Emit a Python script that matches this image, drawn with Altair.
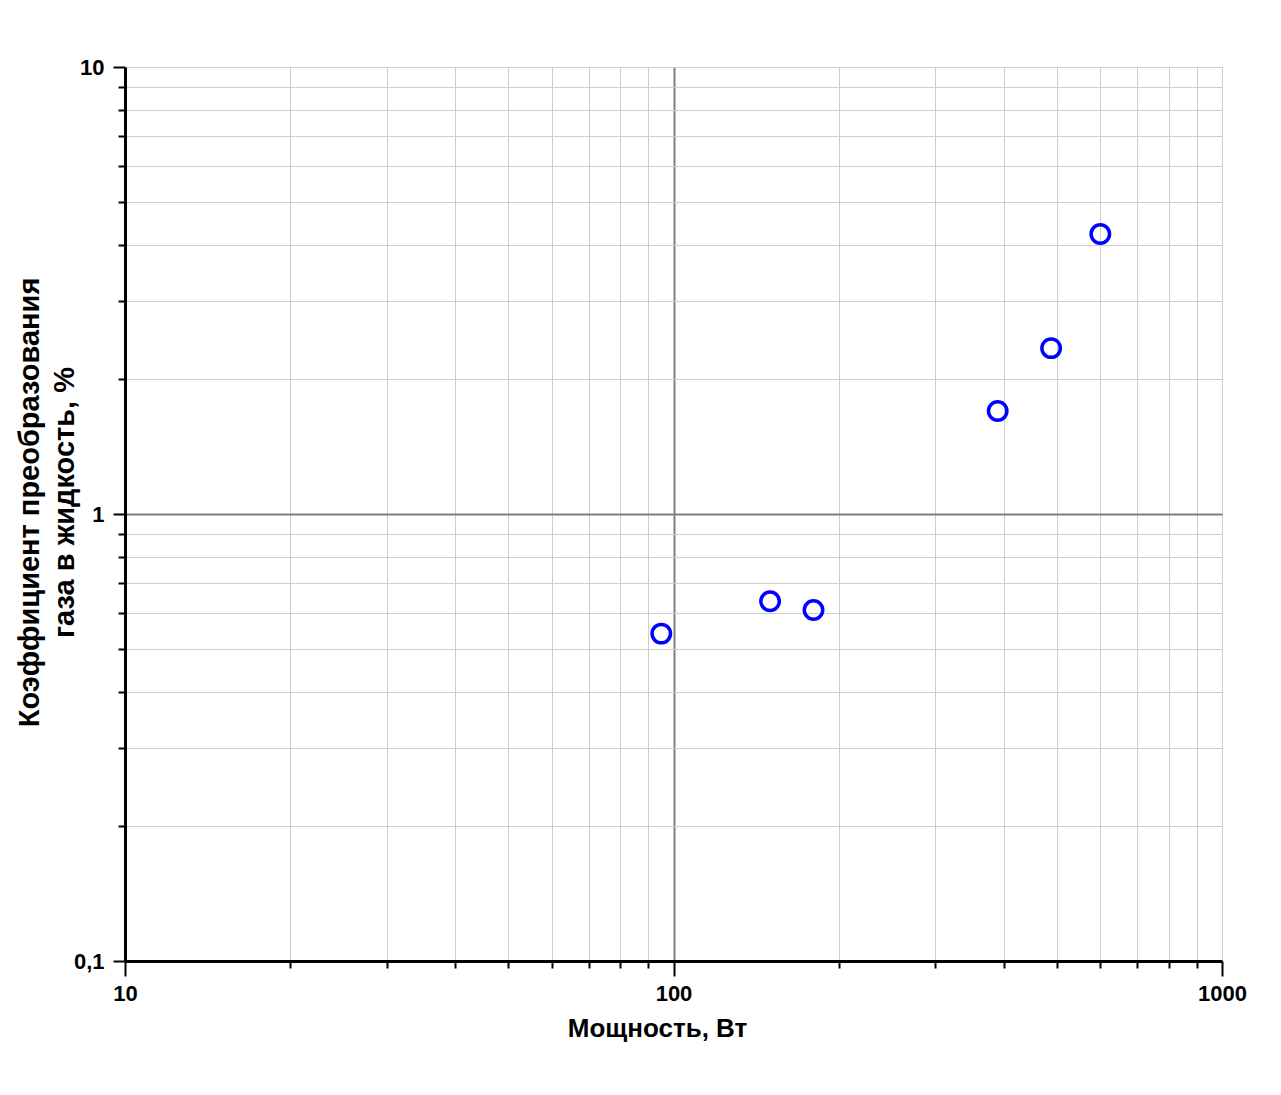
import altair as alt
import pandas as pd

power_w = [95, 150, 180, 390, 488, 600]
conversion_pct = [0.54, 0.638, 0.61, 1.70, 2.35, 4.23]

x_ticks = [10, 20, 30, 40, 50, 60, 70, 80, 90, 100, 200, 300, 400, 500, 600, 700, 800, 900, 1000]
y_ticks = [0.1, 0.2, 0.3, 0.4, 0.5, 0.6, 0.7, 0.8, 0.9, 1, 2, 3, 4, 5, 6, 7, 8, 9, 10]
x_title = "Мощность, Вт"
y_title = ["Коэффициент преобразования", "газа в жидкость, %"]

df = pd.DataFrame({"power": power_w, "conv": conversion_pct})

FONT = "Liberation Sans"

x_axis = alt.Axis(
    values=x_ticks,
    title=x_title,
    labelExpr="(datum.value == 10 || datum.value == 100 || datum.value == 1000) ? datum.label : ''",
    format="d",
    grid=True,
    gridColor={"condition": {"test": "datum.value == 100", "value": "#7f7f7f"}, "value": "#cdcdcd"},
    gridWidth={"condition": {"test": "datum.value == 100", "value": 2}, "value": 1},
    tickSize={"condition": {"test": "datum.value == 10 || datum.value == 100 || datum.value == 1000", "value": 15}, "value": 7},
    tickColor="black",
    tickWidth=2,
    domainColor="black",
    domainWidth=3,
    labelFont=FONT,
    labelFontWeight="bold",
    labelFontSize=22,
    labelColor="black",
    labelPadding=7,
    labelFlush=False,
    labelOverlap=False,
    titleFont=FONT,
    titleFontWeight="bold",
    titleFontSize=26,
    titleColor="black",
    titlePadding=11,
    titleX=532,
)

y_axis = alt.Axis(
    values=y_ticks,
    title=y_title,
    labelExpr="datum.value == 0.1 ? '0,1' : (datum.value == 1 ? '1' : (datum.value == 10 ? '10' : ''))",
    grid=True,
    gridColor={"condition": {"test": "datum.value == 1", "value": "#7f7f7f"}, "value": "#cdcdcd"},
    gridWidth={"condition": {"test": "datum.value == 1", "value": 2}, "value": 1},
    tickSize={"condition": {"test": "datum.value == 0.1 || datum.value == 1 || datum.value == 10", "value": 12}, "value": 7},
    tickColor="black",
    tickWidth=2,
    domainColor="black",
    domainWidth=3,
    labelFont=FONT,
    labelFontWeight="bold",
    labelFontSize=22,
    labelColor="black",
    labelPadding=9,
    labelFlush=False,
    labelOverlap=False,
    titleFont=FONT,
    titleFontWeight="bold",
    titleFontSize=29,
    titleColor="black",
    titlePadding=-6,
    titleLineHeight=35,
    titleY=435,
)

chart = alt.Chart(df).mark_point(
    shape="circle", filled=False, color="#0000ff", strokeWidth=3.5, size=340, opacity=1
).encode(
    x=alt.X("power:Q", scale=alt.Scale(type="log", domain=[10, 1000], nice=False), axis=x_axis),
    y=alt.Y("conv:Q", scale=alt.Scale(type="log", domain=[0.1, 10], nice=False), axis=y_axis),
).properties(
    width=1097,
    height=894,
    autosize=alt.AutoSizeParams(type="none"),
    padding={"left": 117, "top": 59, "right": 51, "bottom": 126},
).configure_view(stroke=None).configure(background="white")

chart.save("out.html", embed_options={"renderer": "svg", "actions": False})
